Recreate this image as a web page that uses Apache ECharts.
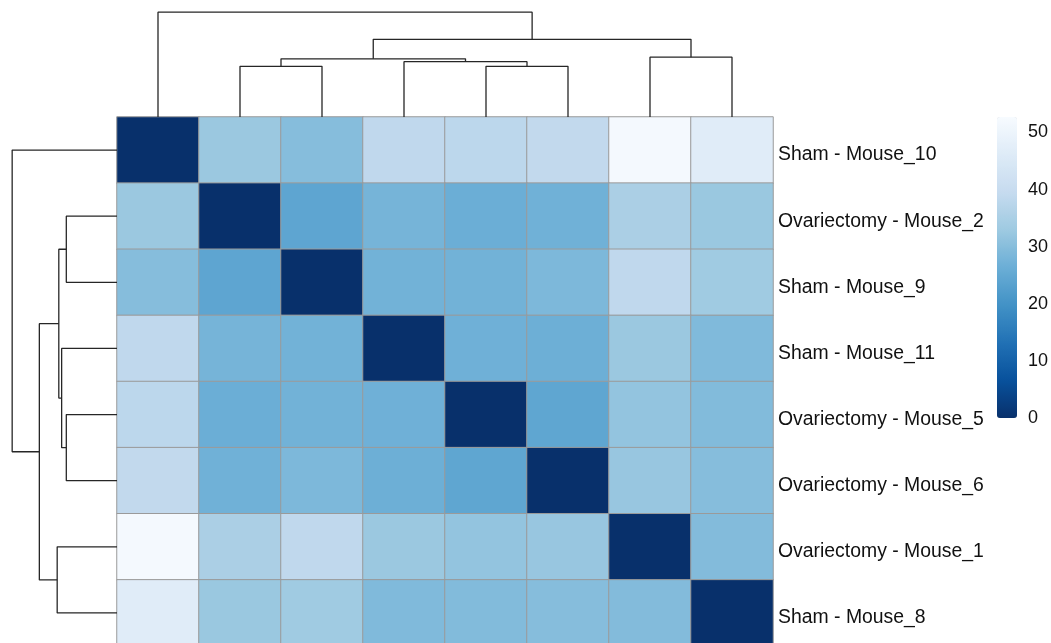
<!DOCTYPE html>
<html>
<head>
<meta charset="utf-8">
<script src="https://cdn.jsdelivr.net/npm/echarts@6/dist/echarts.min.js"></script>
<style>
  html, body { margin: 0; padding: 0; background: #ffffff; overflow: hidden; }
  /* canvas runs past the bottom edge so the last heatmap row is cut off */
  #chart { width: 1051px; height: 660px; }
</style>
</head>
<body>
<div id="chart"></div>
<script>
// Samples in clustered order (rows and columns share this order)
const samples = [
  'Sham - Mouse_10',
  'Ovariectomy - Mouse_2',
  'Sham - Mouse_9',
  'Sham - Mouse_11',
  'Ovariectomy - Mouse_5',
  'Ovariectomy - Mouse_6',
  'Ovariectomy - Mouse_1',
  'Sham - Mouse_8'
];

// Sample-to-sample distances, one row per sample
const distRow1 = [0, 32.5, 29.9, 38.5, 37.9, 38.8, 51.9, 46.6];
const distRow2 = [32.5, 0, 24.3, 27.8, 26.4, 27.0, 35.0, 32.4];
const distRow3 = [29.9, 24.3, 0, 27.2, 27.2, 28.7, 38.5, 33.3];
const distRow4 = [38.5, 27.8, 27.2, 0, 26.9, 26.6, 32.5, 29.1];
const distRow5 = [37.9, 26.4, 27.2, 26.9, 0, 24.4, 31.5, 29.3];
const distRow6 = [38.8, 27.0, 28.7, 26.6, 24.4, 0, 32.1, 29.8];
const distRow7 = [51.9, 35.0, 38.5, 32.5, 31.5, 32.1, 0, 29.4];
const distRow8 = [46.6, 32.4, 33.3, 29.1, 29.3, 29.8, 29.4, 0];
const distances = [distRow1, distRow2, distRow3, distRow4, distRow5, distRow6, distRow7, distRow8];

// Cluster merges: [childA, childB, height]; leaves are 0..7, merged nodes are 8, 9, ...
const mergeLeft   = [1, 4, 3, 8, 6, 11, 0];
const mergeRight  = [2, 5, 9, 10, 7, 12, 13];
const mergeHeight = [25.0, 25.0, 27.3, 28.7, 29.5, 38.3, 51.7];

// Colour scale (reversed Blues) and legend range
const blues = ['#08306B', '#08519C', '#2171B5', '#4292C6', '#6BAED6', '#9ECAE1', '#C6DBEF', '#DEEBF7', '#F7FBFF'];
const scaleMin = 0;
const scaleMax = 52.7;
const legendStep = 10;
const treeMax = 57.7;

// Heatmap cells
const cells = [];
distances.forEach((row, r) => row.forEach((v, c) => cells.push([c, r, v])));

// Dendrogram branches built from the merge list
const nodePos = samples.map((_, i) => i + 0.5);
const nodeH = samples.map(() => 0);
const branches = [];
mergeLeft.forEach((a, j) => {
  const b = mergeRight[j];
  const h = mergeHeight[j];
  branches.push([[nodePos[a], nodeH[a]], [nodePos[a], h], [nodePos[b], h], [nodePos[b], nodeH[b]]]);
  nodePos.push((nodePos[a] + nodePos[b]) / 2);
  nodeH.push(h);
});

const treeLine = { color: '#262626', width: 1.3 };
const series = [{
  type: 'heatmap',
  xAxisIndex: 0,
  yAxisIndex: 0,
  data: cells,
  itemStyle: { borderColor: '#9a9a9a', borderWidth: 1 },
  emphasis: { disabled: true },
  silent: true
}];
// column tree (top)
branches.forEach(pts => series.push({
  type: 'line', xAxisIndex: 1, yAxisIndex: 1,
  data: pts, symbol: 'none', lineStyle: treeLine, silent: true
}));
// row tree (left): same branches with axes swapped
branches.forEach(pts => series.push({
  type: 'line', xAxisIndex: 2, yAxisIndex: 2,
  data: pts.map(p => [p[1], p[0]]), symbol: 'none', lineStyle: treeLine, silent: true
}));

const textFont = { fontFamily: 'Liberation Sans, Arial, sans-serif', color: '#111' };
const hiddenValue = (grid, min, max, inverse) => ({
  type: 'value', gridIndex: grid, min: min, max: max, inverse: !!inverse, show: false
});
const noAxisMarks = { axisLine: { show: false }, axisTick: { show: false }, splitLine: { show: false } };

const option = {
  animation: false,
  backgroundColor: '#ffffff',
  grid: [
    { left: 117, top: 117, width: 656, height: 529 },   // heatmap
    { left: 117, top: 0, width: 656, height: 117 },     // column tree
    { left: 0, top: 117, width: 117, height: 529 },     // row tree
    { left: 1017, top: 117, width: 1, height: 301 },    // legend ticks
    { left: 117, top: 122, width: 656, height: 529 }    // row names (sit slightly below row centres)
  ],
  xAxis: [
    { type: 'category', gridIndex: 0, data: samples, show: false },
    hiddenValue(1, 0, samples.length),
    hiddenValue(2, 0, treeMax, true),
    { type: 'value', gridIndex: 3, show: false },
    { type: 'category', gridIndex: 4, data: samples, show: false }
  ],
  yAxis: [
    { type: 'category', gridIndex: 0, data: samples, inverse: true, show: false },
    hiddenValue(1, 0, treeMax),
    hiddenValue(2, 0, samples.length, true),
    Object.assign({
      type: 'value', gridIndex: 3, min: scaleMin, max: scaleMax, interval: legendStep,
      position: 'right',
      axisLabel: Object.assign({ fontSize: 18, margin: 10, showMaxLabel: false }, textFont)
    }, noAxisMarks),
    Object.assign({
      type: 'category', gridIndex: 4, data: samples, inverse: true, position: 'right',
      axisLabel: Object.assign({ fontSize: 19.4, margin: 5 }, textFont)
    }, noAxisMarks)
  ],
  visualMap: {
    type: 'continuous',
    seriesIndex: 0,
    min: scaleMin,
    max: scaleMax,
    calculable: false,
    hoverLink: false,
    orient: 'vertical',
    left: 997,
    top: 117,
    padding: 0,
    itemWidth: 20,
    itemHeight: 301,
    text: ['', ''],
    inRange: { color: blues }
  },
  series: series
};

echarts.init(document.getElementById('chart'), null, { renderer: 'canvas' }).setOption(option);
</script>
</body>
</html>
